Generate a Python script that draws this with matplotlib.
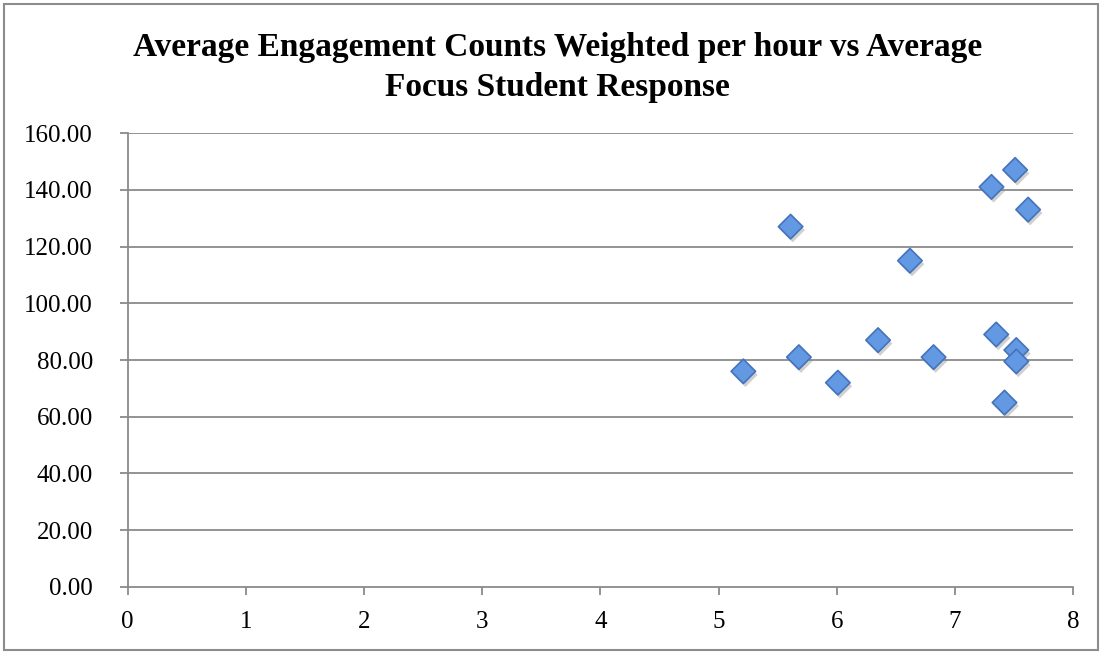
import matplotlib.pyplot as plt
import matplotlib.patheffects as pe
from matplotlib.patches import Rectangle

# Average focus student response (x) vs weighted engagement counts per hour (y)
focus_response = [5.21, 5.61, 5.68, 6.01, 6.35, 6.62, 6.82, 7.31, 7.35, 7.42, 7.51, 7.52, 7.52, 7.62]
engagement_per_hour = [76.0, 127.0, 81.0, 72.0, 87.0, 115.0, 81.0, 141.0, 89.0, 65.0, 147.0, 83.5, 79.5, 133.0]

x_ticks = [0, 1, 2, 3, 4, 5, 6, 7, 8]
y_ticks = [0, 20, 40, 60, 80, 100, 120, 140, 160]

title_lines = ["Average Engagement Counts Weighted per hour vs Average",
               "Focus Student Response"]

plt.rcParams['font.family'] = ['Liberation Serif', 'DejaVu Serif']

fig = plt.figure(figsize=(11.02, 6.52), dpi=100)
ax = fig.add_axes([0.1159, 0.0997, 0.9737 - 0.1159, 0.796 - 0.0997])

grid_col = '#8a8a8a'

ax.scatter(focus_response, engagement_per_hour, marker='D', s=155,
           facecolor='#6398e2', edgecolor='#4573bb', linewidth=1.2, zorder=3,
           path_effects=[pe.SimplePatchShadow(offset=(1.5, -2.5), shadow_rgbFace='#8a8a8a', alpha=0.4),
                         pe.Normal()])

ax.set_xlim(0, 8)
ax.set_ylim(0, 160)
ax.set_xticks(x_ticks)
ax.set_yticks(y_ticks)
ax.set_xticklabels([str(v) for v in x_ticks])
ax.set_yticklabels([f"{v:.2f}" for v in y_ticks])

for v in y_ticks[1:]:
    ax.axhline(v, color=grid_col, linewidth=1.3, zorder=1)

for side in ['top', 'right']:
    ax.spines[side].set_visible(False)
for side in ['left', 'bottom']:
    ax.spines[side].set_color(grid_col)
    ax.spines[side].set_linewidth(1.3)

ax.tick_params(axis='both', direction='out', length=6, width=1.3, color=grid_col,
               labelsize=18, labelcolor='black')
ax.tick_params(axis='y', pad=19)
ax.tick_params(axis='x', pad=11)

fig.text(0.506, 1 - 56 / 652, title_lines[0], ha='center', va='baseline',
         fontsize=24, fontweight='bold')
fig.text(0.506, 1 - 96 / 652, title_lines[1], ha='center', va='baseline',
         fontsize=24, fontweight='bold')

# outer chart border
fig.patches.append(Rectangle((0.004, 0.003), 0.992, 0.991, transform=fig.transFigure,
                             fill=False, edgecolor='#8c8c8c', linewidth=1.5))

fig.savefig('out.png', dpi=100)
